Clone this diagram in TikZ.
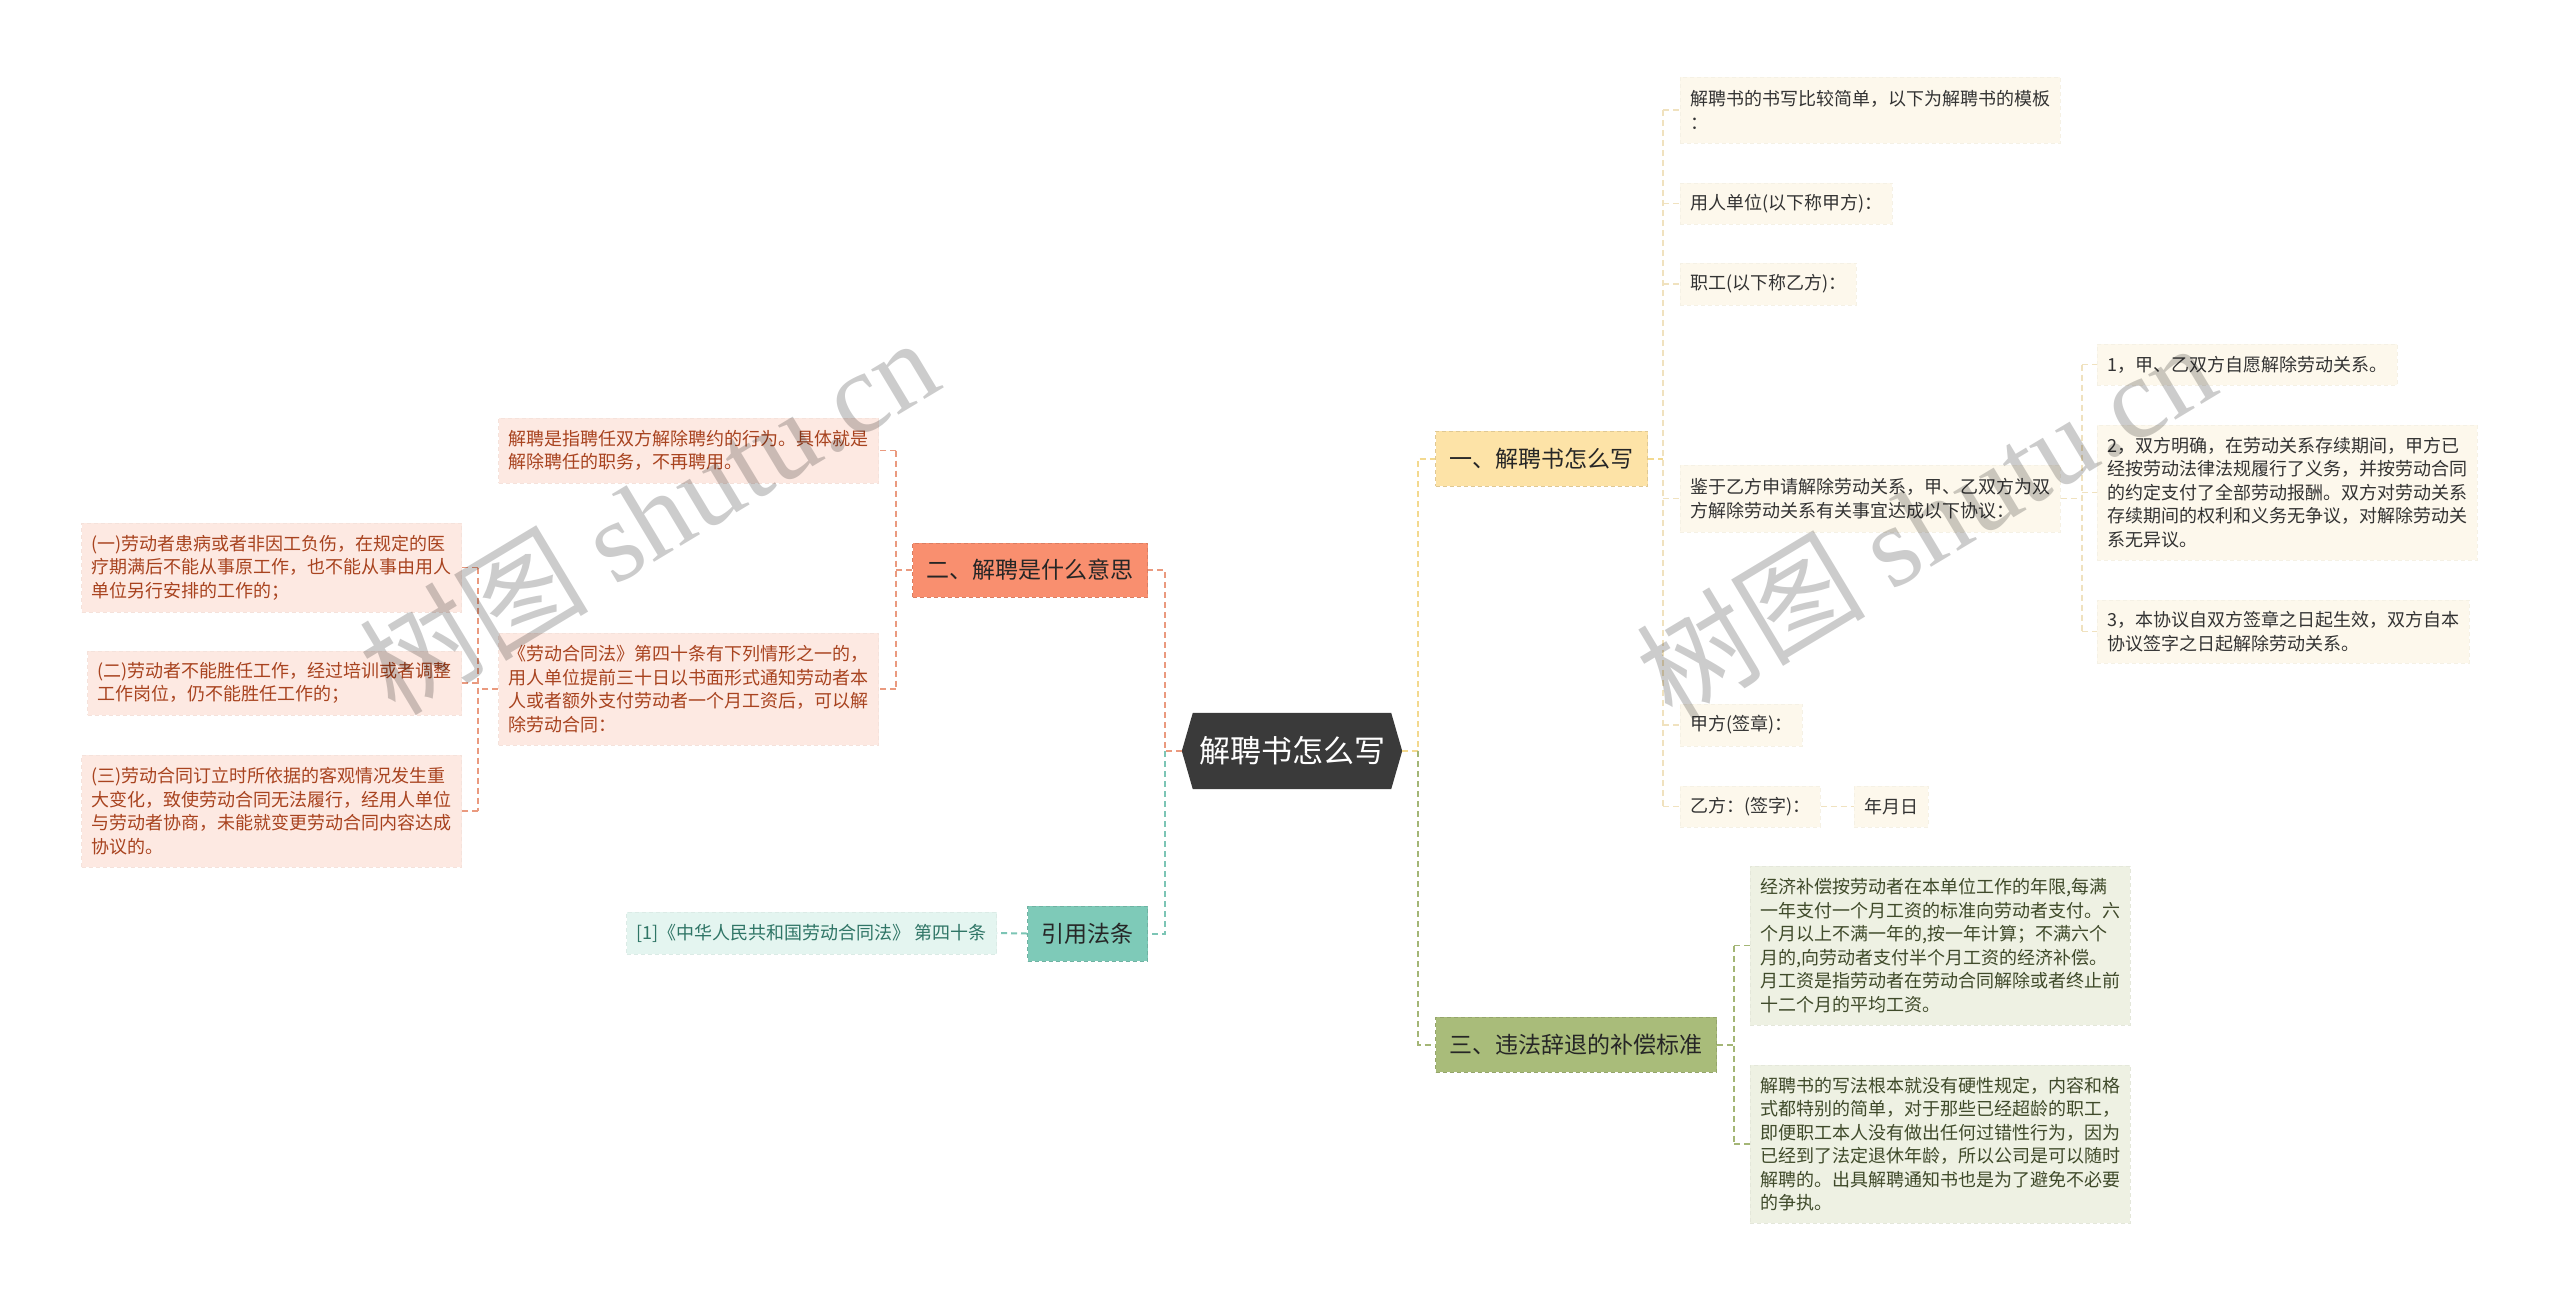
\documentclass[tikz,border=0pt]{standalone}
\usepackage{fontspec}
\setmainfont{Noto Sans CJK SC}
\newfontfamily\wmlatin{Liberation Serif}
\usetikzlibrary{backgrounds}
\definecolor{cdark}{HTML}{3A3A3A}
\definecolor{fY}{HTML}{FDE3A7}
\definecolor{fO}{HTML}{F98F6F}
\definecolor{fG}{HTML}{A9BC7A}
\definecolor{fT}{HTML}{7ECAB8}
\definecolor{lfY}{HTML}{FDF8EC}
\definecolor{lfO}{HTML}{FDE9E2}
\definecolor{lfG}{HTML}{EEF1E3}
\definecolor{lfT}{HTML}{E4F5F0}
\definecolor{tO}{HTML}{A8431F}
\definecolor{tG}{HTML}{3F4A2A}
\definecolor{tT}{HTML}{2F7566}
\definecolor{cY}{HTML}{F3D98F}
\definecolor{cY2}{HTML}{F0E2BF}
\definecolor{cO}{HTML}{EA9A7F}
\definecolor{cG}{HTML}{A4B676}
\definecolor{cT}{HTML}{7CC5B5}
\begin{document}
\begin{tikzpicture}[x=1pt,y=-1pt,
  leaf/.style={inner xsep=10pt, inner ysep=0pt, align=left,
    font=\fontsize{18pt}{23.5pt}\selectfont, line width=0.6pt, dash pattern=on 4pt off 3pt},
  leafY/.style={leaf, fill=lfY, draw=lfY!97!black, text=black!80},
  leafO/.style={leaf, fill=lfO, draw=lfO!97!black, text=tO},
  leafG/.style={leaf, fill=lfG, draw=lfG!96!black, text=tG},
  leafT/.style={leaf, fill=lfT, draw=lfT!96!black, text=tT},
  branch/.style={inner xsep=14pt, inner ysep=0pt, font=\fontsize{23pt}{28pt}\selectfont,
    text=black!85, line width=1pt, dash pattern=on 4pt off 3pt},
  central/.style={inner xsep=17pt, inner ysep=0pt, font=\fontsize{31pt}{36pt}\selectfont,
    text=white, minimum width=220pt, minimum height=76pt},
  conn/.style={line width=2pt, dash pattern=on 6pt off 4pt},
  lnY/.style={conn, draw=cY},
  lnY2/.style={conn, line width=1.5pt, draw=cY2},
  lnO/.style={conn, draw=cO},
  lnG/.style={conn, draw=cG},
  lnT/.style={conn, draw=cT},
  wm/.style={text=black, text opacity=0.2, font=\fontsize{115pt}{120pt}\selectfont}
]
\useasboundingbox (0,0) rectangle (2560,1302);

% central
\node[central] (C) at (1292,751) {解聘书怎么写};
\begin{scope}[on background layer]
\fill[white] (0,0) rectangle (2560,1302);
\fill[cdark] ([xshift=11pt]C.north west) -- ([xshift=-11pt]C.north east) -- (C.east)
  -- ([xshift=-11pt]C.south east) -- ([xshift=11pt]C.south west) -- (C.west) -- cycle;
\end{scope}

% branches
\node[branch, fill=fY, draw=fY!88!black, anchor=west, minimum height=55pt] (B1) at (1435,458.5) {一、解聘书怎么写};
\node[branch, fill=fO, draw=fO!88!black, anchor=east, minimum height=54pt] (B2) at (1148,570) {二、解聘是什么意思};
\node[branch, fill=fG, draw=fG!88!black, anchor=west, minimum height=55pt] (B3) at (1435,1044.5) {三、违法辞退的补偿标准};
\node[branch, fill=fT, draw=fT!88!black, anchor=east, minimum height=55pt] (CT) at (1148,933.5) {引用法条};

% branch 1 leaves
\node[leafY, anchor=west, minimum height=66pt] (a1) at (1680,110) {解聘书的书写比较简单，以下为解聘书的模板\\：};
\node[leafY, anchor=west, minimum height=41pt] (a2) at (1680,203.5) {用人单位(以下称甲方)：};
\node[leafY, anchor=west, minimum height=42pt] (a3) at (1680,284) {职工(以下称乙方)：};
\node[leafY, anchor=west, minimum height=67pt] (a4) at (1680,498.5) {鉴于乙方申请解除劳动关系，甲、乙双方为双\\方解除劳动关系有关事宜达成以下协议：};
\node[leafY, anchor=west, minimum height=42pt] (a5) at (1680,725) {甲方(签章)：};
\node[leafY, anchor=west, minimum height=41pt] (a6) at (1680,806.5) {乙方：(签字)：};
\node[leafY, anchor=west, minimum height=41pt] (a7) at (1854,806.5) {年月日};
\node[leafY, anchor=west, minimum height=41pt] (g1) at (2097,364.5) {1，甲、乙双方自愿解除劳动关系。};
\node[leafY, anchor=west, minimum height=135pt] (g2) at (2097,492.5) {2，双方明确，在劳动关系存续期间，甲方已\\经按劳动法律法规履行了义务，并按劳动合同\\的约定支付了全部劳动报酬。双方对劳动关系\\存续期间的权利和义务无争议，对解除劳动关\\系无异议。};
\node[leafY, anchor=west, minimum height=63pt] (g3) at (2097,631.5) {3，本协议自双方签章之日起生效，双方自本\\协议签字之日起解除劳动关系。};

% branch 2 leaves
\node[leafO, anchor=east, minimum height=65pt] (b1) at (879,450.5) {解聘是指聘任双方解除聘约的行为。具体就是\\解除聘任的职务，不再聘用。};
\node[leafO, anchor=east, minimum height=112pt] (b2) at (879,689) {《劳动合同法》第四十条有下列情形之一的，\\用人单位提前三十日以书面形式通知劳动者本\\人或者额外支付劳动者一个月工资后，可以解\\除劳动合同：};
\node[leafO, anchor=east, minimum height=89pt] (l1) at (462,567.5) {(一)劳动者患病或者非因工负伤，在规定的医\\疗期满后不能从事原工作，也不能从事由用人\\单位另行安排的工作的；};
\node[leafO, anchor=east, minimum height=64pt] (l2) at (462,683) {(二)劳动者不能胜任工作，经过培训或者调整\\工作岗位，仍不能胜任工作的；};
\node[leafO, anchor=east, minimum height=112pt] (l3) at (462,811) {(三)劳动合同订立时所依据的客观情况发生重\\大变化，致使劳动合同无法履行，经用人单位\\与劳动者协商，未能就变更劳动合同内容达成\\协议的。};

% branch 3 leaves
\node[leafG, anchor=west, minimum height=159pt] (c1) at (1750,945.5) {经济补偿按劳动者在本单位工作的年限,每满\\一年支付一个月工资的标准向劳动者支付。六\\个月以上不满一年的,按一年计算；不满六个\\月的,向劳动者支付半个月工资的经济补偿。\\月工资是指劳动者在劳动合同解除或者终止前\\十二个月的平均工资。};
\node[leafG, anchor=west, minimum height=158pt] (c2) at (1750,1144) {解聘书的写法根本就没有硬性规定，内容和格\\式都特别的简单，对于那些已经超龄的职工，\\即便职工本人没有做出任何过错性行为，因为\\已经到了法定退休年龄，所以公司是可以随时\\解聘的。出具解聘通知书也是为了避免不必要\\的争执。};

% cite leaf
\node[leafT, anchor=east, minimum height=42pt] (d1) at (997,933) {[1]《中华人民共和国劳动合同法》 第四十条};

% connectors from centre
\coordinate (jr) at (1418,751);
\coordinate (jl) at (1165,751);
\draw[lnY] (C.east) -- (jr) |- (B1.west);
\draw[lnG] (jr) |- (B3.west);
\draw[lnO] (C.west) -- (jl) |- (B2.east);
\draw[lnT] (jl) |- (CT.east);

% branch 1
\coordinate (j1) at (1663,458.5);
\draw[lnY] (B1.east) -- (j1);
\draw[lnY2] (j1 |- a1.west) -- (j1 |- a6.west);
\foreach \n in {a1,a2,a3,a4,a5,a6} \draw[lnY2] (j1 |- \n.west) -- (\n.west);
\draw[lnY2] (a6.east) -- (a7.west);
\coordinate (j2) at (2082,498.5);
\draw[lnY2] (a4.east) -- (j2);
\draw[lnY2] (j2 |- g1.west) -- (j2 |- g3.west);
\foreach \n in {g1,g2,g3} \draw[lnY2] (j2 |- \n.west) -- (\n.west);

% branch 2
\coordinate (j3) at (896,570);
\draw[lnO] (B2.west) -- (j3);
\draw[lnO, line width=1.5pt] (j3 |- b1.east) -- (j3 |- b2.east);
\foreach \n in {b1,b2} \draw[lnO, line width=1.5pt] (j3 |- \n.east) -- (\n.east);
\coordinate (j4) at (478,689);
\draw[lnO, line width=1.5pt] (b2.west) -- (j4);
\draw[lnO, line width=1.5pt] (j4 |- l1.east) -- (j4 |- l3.east);
\foreach \n in {l1,l2,l3} \draw[lnO, line width=1.5pt] (j4 |- \n.east) -- (\n.east);

% branch 3
\coordinate (j5) at (1734,1044.5);
\draw[lnG] (B3.east) -- (j5);
\draw[lnG, line width=1.5pt] (j5 |- c1.west) -- (j5 |- c2.west);
\foreach \n in {c1,c2} \draw[lnG, line width=1.5pt] (j5 |- \n.west) -- (\n.west);

% cite
\draw[lnT] (CT.west) -- (d1.east);

% watermarks
\node[wm, rotate=31] (w1) at (648,515) {树图 {\wmlatin shutu.cn}};
\node[wm, rotate=31] (w2) at (1925,520) {树图 {\wmlatin shutu.cn}};
\end{tikzpicture}
\end{document}
